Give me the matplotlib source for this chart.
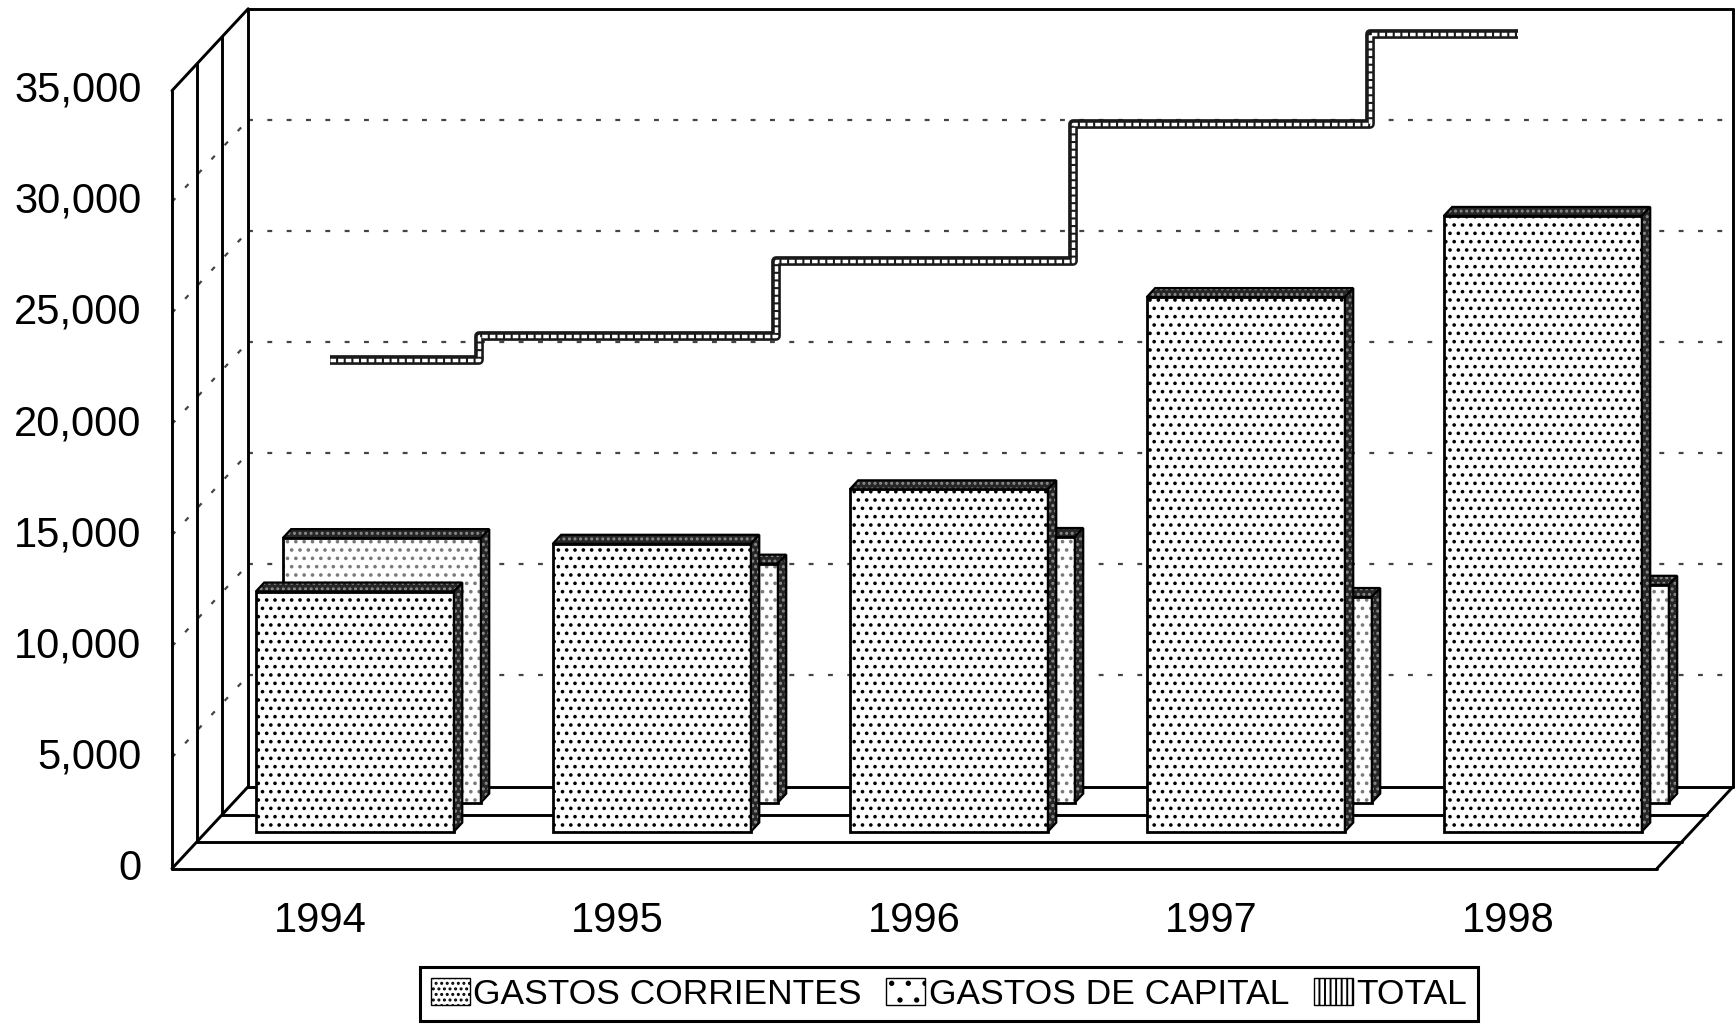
import numpy as np
import matplotlib.pyplot as plt
from matplotlib.patches import Polygon, Patch

plt.rcParams['font.family'] = ['Liberation Sans', 'DejaVu Sans']
plt.rcParams['hatch.linewidth'] = 1.4

years = ['1994', '1995', '1996', '1997', '1998']
corrientes = [10800, 12950, 15400, 24050, 27700]
capital = [11900, 10750, 11950, 9250, 9800]
total = [22900, 23950, 27350, 33500, 37550]
yticks = [0, 5000, 10000, 15000, 20000, 25000, 30000, 35000]
labels = ['GASTOS CORRIENTES', 'GASTOS DE CAPITAL', 'TOTAL']

fig = plt.figure(figsize=(17.35, 10.25), dpi=100)
ax = fig.add_axes([0, 0, 1, 1])
ax.set_xlim(-1.079, 4.763)
ax.set_ylim(-7037, 39081)
ax.axis('off')

# one unit of depth = one pixel up and a bit to the right
KX = 0.93 / 297.0
KY = 1 / 0.022226
DEPTH = 82
X0, X1, VTOP = -0.5, 4.5, 35000


def dep(x, v, d):
    return x + d * KX, v + d * KY


def seg(p, q, **kw):
    ax.plot([p[0], q[0]], [p[1], q[1]], **kw)


frame = dict(color='black', lw=2.1, solid_capstyle='round', zorder=2)
grid = dict(color='#444444', lw=1.6, linestyle=(0, (2.2, 6.5)), zorder=1)

# gridlines on back wall and left wall
for v in yticks[1:-1]:
    seg(dep(X0, v, DEPTH), dep(X1, v, DEPTH), **grid)
    seg(dep(X0, v, 0), dep(X0, v, DEPTH), **grid)

# floor strips and left wall strips
for d in [0, 27, 54, DEPTH]:
    seg(dep(X0, 0, d), dep(X1, 0, d), **frame)
    seg(dep(X0, 0, d), dep(X0, VTOP, d), **frame)
seg(dep(X0, 0, 0), dep(X0, 0, DEPTH), **frame)
seg(dep(X1, 0, 0), dep(X1, 0, DEPTH), **frame)
seg(dep(X0, VTOP, 0), dep(X0, VTOP, DEPTH), **frame)
seg(dep(X0, VTOP, DEPTH), dep(X1, VTOP, DEPTH), **frame)
seg(dep(X1, 0, DEPTH), dep(X1, VTOP, DEPTH), **frame)

W = 0.667
T = 9


def bars3d(values, d, hatch, hcolor, z):
    xs = np.arange(len(values)) + d * KX
    base = d * KY
    ax.bar(xs, values, width=W, bottom=base, color='white', edgecolor=hcolor,
           hatch=hatch, linewidth=0, zorder=z)
    ax.bar(xs, values, width=W, bottom=base, fill=False, edgecolor='black',
           linewidth=2.0, zorder=z)
    for x, v in zip(xs, values):
        xl, xr = x - W / 2, x + W / 2
        top = base + v
        dx, dy = T * KX, T * KY
        faces = [
            [(xl, top), (xr, top), (xr + dx, top + dy), (xl + dx, top + dy)],
            [(xr, base), (xr, top), (xr + dx, top + dy), (xr + dx, base + dy)],
        ]
        for f in faces:
            ax.add_patch(Polygon(f, closed=True, facecolor='#262626',
                                 edgecolor='#8c8c8c', hatch='...', lw=0, zorder=z))
            ax.add_patch(Polygon(f, closed=True, fill=False,
                                 edgecolor='black', lw=1.6, zorder=z))


bars3d(capital, 66, '..', '#7a7a7a', 3)
bars3d(corrientes, 37, '..', 'black', 4)

# total as a stepped ribbon
tx = np.arange(len(total)) + 10 / 297.0
ax.step(tx, total, where='mid', color='#1a1a1a', lw=7, zorder=5,
        solid_joinstyle='round', solid_capstyle='butt')
ax.step(tx, total, where='mid', color='white', lw=2.5, zorder=6,
        dashes=(1.6, 0.6))

for v in yticks:
    ax.annotate(f'{v:,}', xy=(X0, v), xytext=(-22, 0), textcoords='offset points',
                ha='right', va='center', fontsize=30)
for i, y in enumerate(years):
    ax.annotate(y, xy=(i, 0), xytext=(0, -38), textcoords='offset points',
                ha='center', va='center', fontsize=30)

handles = [Patch(facecolor='white', edgecolor='black', hatch='...'),
           Patch(facecolor='white', edgecolor='black', hatch='.'),
           Patch(facecolor='white', edgecolor='black', hatch='|||')]
leg = fig.legend(handles, labels, loc='center', bbox_to_anchor=(949 / 1735, 1 - 994 / 1025),
                 ncol=3, fontsize=25.5, fancybox=False, edgecolor='black', framealpha=1,
                 handlelength=1.1, handleheight=0.8, handletextpad=0.1,
                 columnspacing=0.7, borderpad=0.3, borderaxespad=0)
leg.get_frame().set_linewidth(2.2)

fig.savefig('out.png', dpi=100)
